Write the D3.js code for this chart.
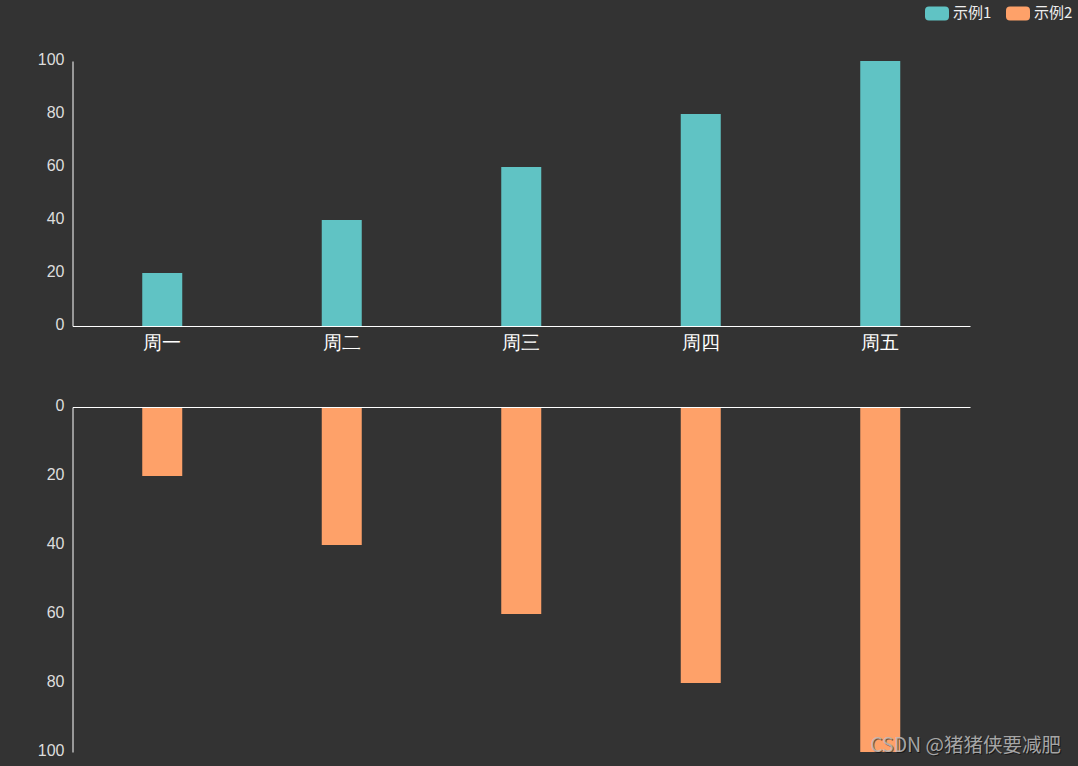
<!DOCTYPE html>
<html><head><meta charset="utf-8">
<script src="https://cdn.jsdelivr.net/npm/d3@7"></script>
<style>
html,body{margin:0;padding:0;background:#333;}
svg{display:block;font-family:"Noto Sans CJK SC","Noto Sans",sans-serif;}
</style></head>
<body>
<svg id="c" width="1078" height="766"></svg>
<script>
const categories = ["周一","周二","周三","周四","周五"];
const series1 = [20,40,60,80,100];
const series2 = [20,40,60,80,100];
const seriesNames = ["示例1","示例2"];
const yTicks = [0,20,40,60,80,100];
const colors = ["#60c3c4","#fea169"];

const svg = d3.select("#c");
svg.append("rect").attr("width",1078).attr("height",766).attr("fill","#333");

const left = 72.5, right = 970;
const x = d3.scaleBand().domain(categories).range([left, right]);
const barW = 40;

// top chart
const yTop = d3.scaleLinear().domain([0,100]).range([326, 61]);
const gTop = svg.append("g");
gTop.selectAll("rect.b1").data(series1).enter().append("rect")
  .attr("x",(d,i)=>x(categories[i])+x.bandwidth()/2-barW/2)
  .attr("y",d=>yTop(d)).attr("width",barW).attr("height",d=>yTop(0)-yTop(d))
  .attr("fill",colors[0]);

const yAxTop = gTop.append("g").attr("transform",`translate(${left},0)`)
  .call(d3.axisLeft(yTop).tickValues(yTicks).tickSize(0).tickPadding(8));
yAxTop.select(".domain").attr("stroke","#fff").attr("stroke-width",1);
yAxTop.selectAll("text").attr("fill","#ddd").attr("dy","0.2em").style("font-size","16px");

const xAxTop = gTop.append("g").attr("transform",`translate(0,${yTop(0)})`)
  .call(d3.axisBottom(x).tickSize(0).tickPadding(10));
xAxTop.select(".domain").attr("stroke","#fff").attr("stroke-width",1);
xAxTop.selectAll("text").attr("fill","#fff").style("font-size","19px");

// bottom chart
const yBot = d3.scaleLinear().domain([0,100]).range([407, 752]);
const gBot = svg.append("g");
gBot.selectAll("rect.b2").data(series2).enter().append("rect")
  .attr("x",(d,i)=>x(categories[i])+x.bandwidth()/2-barW/2)
  .attr("y",yBot(0)).attr("width",barW).attr("height",d=>yBot(d)-yBot(0))
  .attr("fill",colors[1]);

const yAxBot = gBot.append("g").attr("transform",`translate(${left},0)`)
  .call(d3.axisLeft(yBot).tickValues(yTicks).tickSize(0).tickPadding(8));
yAxBot.select(".domain").attr("stroke","#fff").attr("stroke-width",1);
yAxBot.selectAll("text").attr("fill","#ddd").attr("dy","0.2em").style("font-size","16px");

const xAxBot = gBot.append("g").attr("transform",`translate(0,${yBot(0)})`)
  .call(d3.axisTop(x).tickSize(0).tickFormat(""));
xAxBot.select(".domain").attr("stroke","#fff").attr("stroke-width",1);

// legend
const legX = [925, 1006];
seriesNames.forEach((n,i)=>{
  svg.append("rect").attr("x",legX[i]).attr("y",6.5).attr("width",24).attr("height",14)
    .attr("rx",4).attr("fill",colors[i]);
  svg.append("text").attr("x",legX[i]+28).attr("y",13).attr("dy","0.35em")
    .attr("fill","#eee").style("font-size","15px").text(n);
});

// watermark
svg.append("text").attr("x",1061).attr("y",745).attr("text-anchor","end").attr("dy","0.35em")
  .attr("fill","#000").attr("opacity",0.5).style("font-size","19.5px").attr("transform","translate(1,1)")
  .text("CSDN @猪猪侠要减肥");
svg.append("text").attr("x",1061).attr("y",745).attr("text-anchor","end").attr("dy","0.35em")
  .attr("fill","#bbb").attr("opacity",0.85).style("font-size","19.5px")
  .text("CSDN @猪猪侠要减肥");
</script>
</body></html>
